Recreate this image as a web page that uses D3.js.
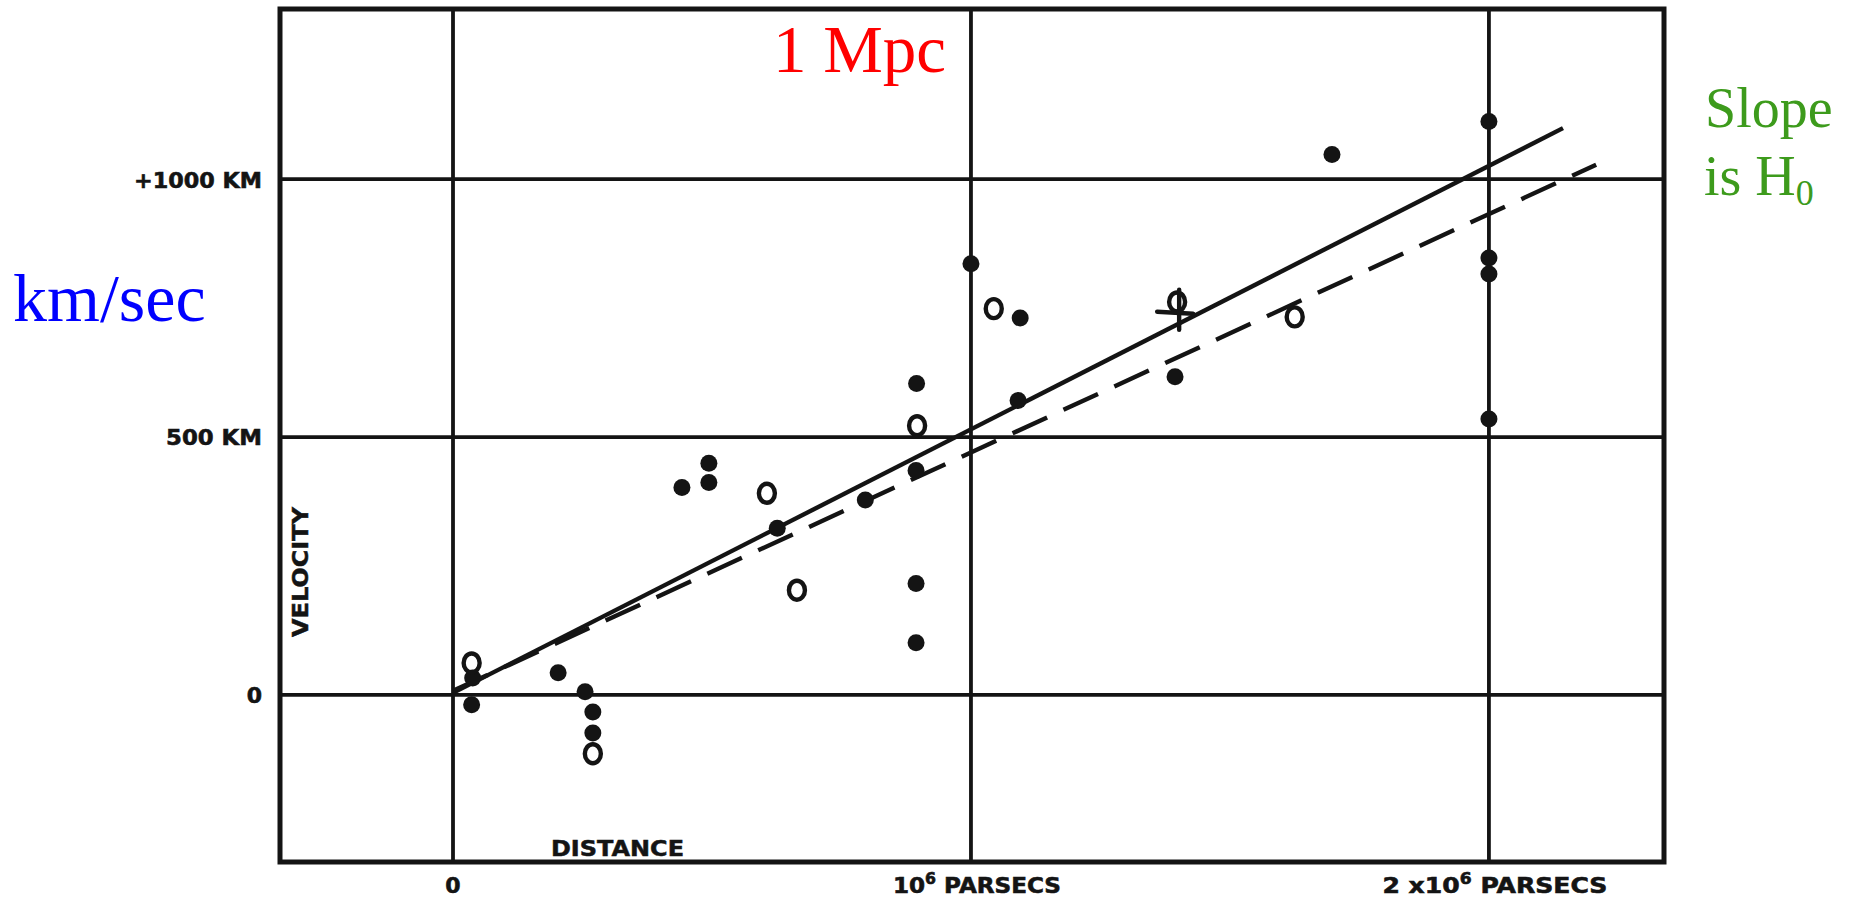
<!DOCTYPE html>
<html>
<head>
<meta charset="utf-8">
<script src="https://cdn.jsdelivr.net/npm/d3@7"></script>
<style>
  html, body { margin: 0; background: #fff; }
  svg { display: block; }
</style>
</head>
<body>
<svg id="chart" width="1850" height="898"></svg>
<script>
// Velocity–distance relation for extra-galactic nebulae.
// Individual nebulae (black discs): distance in Mpc, radial velocity in km/s.
const nebulaDist = [0.038, 0.036, 0.203, 0.255, 0.270, 0.270, 0.442, 0.494, 0.494, 0.626,
                    0.796, 0.894, 0.894, 0.894, 0.895, 1.000, 1.095, 1.091, 1.394, 1.697,
                    2.000, 2.000, 2.000, 2.000];
const nebulaVel  = [33, -19, 43, 6, -33, -74, 402, 449, 412, 323,
                    378, 435, 216, 101, 604, 836, 731, 571, 617, 1048,
                    1112, 847, 816, 535];

// Nebulae combined into groups (open circles).
const groupDist = [0.036, 0.270, 0.606, 0.664, 0.896, 1.044, 1.625, 1.398];
const groupVel  = [62, -114, 391, 203, 522, 749, 733, 762];

// Mean velocity of the 22 nebulae without individual distances (cross).
const crossDist = [1.40];
const crossVel  = [743];

// Fitted lines: full line for individual nebulae, broken line for groups.
const fullLineDist   = [0, 2.143];
const fullLineVel    = [4, 1099];
const brokenLineDist = [0, 2.207];
const brokenLineVel  = [8, 1028];

// Axes
const xTicks = [0, 1, 2];
const yTicks = [0, 500, 1000];
const yTickLabels = ["0", "500 KM", "+1000 KM"];
const xDomain = [-0.334, 2.338];
const yDomain = [-324, 1330];

const svg = d3.select("#chart");
const frame = { left: 280, right: 1664, top: 9, bottom: 862 };

const x = d3.scaleLinear().domain(xDomain).range([frame.left, frame.right]);
const y = d3.scaleLinear().domain(yDomain).range([frame.bottom, frame.top]);

const ink = "#141414";
const letterFont = "'DejaVu Sans', sans-serif";

// Grid lines
const grid = svg.append("g").attr("stroke", ink).attr("stroke-width", 3.8);
grid.selectAll("line.v").data(xTicks).join("line")
  .attr("class", "v")
  .attr("x1", d => x(d)).attr("x2", d => x(d))
  .attr("y1", y(yDomain[0])).attr("y2", y(yDomain[1]));
grid.selectAll("line.h").data(yTicks).join("line")
  .attr("class", "h")
  .attr("x1", x(xDomain[0])).attr("x2", x(xDomain[1]))
  .attr("y1", d => y(d)).attr("y2", d => y(d));

// Frame
svg.append("rect")
  .attr("x", x(xDomain[0])).attr("y", y(yDomain[1]))
  .attr("width", x(xDomain[1]) - x(xDomain[0]))
  .attr("height", y(yDomain[0]) - y(yDomain[1]))
  .attr("fill", "none").attr("stroke", ink).attr("stroke-width", 5);

// Y axis labels
const yAxis = d3.axisLeft(y)
  .tickValues(yTicks)
  .tickSize(0)
  .tickPadding(18)
  .tickFormat((d, i) => yTickLabels[i]);
const gy = svg.append("g").attr("transform", `translate(${x(xDomain[0])},0)`).call(yAxis);
gy.select(".domain").remove();
gy.selectAll("text")
  .attr("font-family", letterFont).attr("font-weight", "bold")
  .attr("font-size", 22).attr("fill", ink)
  .attr("stroke", ink).attr("stroke-width", 0.6)
  .attr("dy", "0.36em");
gy.selectAll(".tick text")
  .filter((d, i) => i > 0)
  .attr("textLength", (d, i) => [96, 128][i])
  .attr("lengthAdjust", "spacingAndGlyphs");

// X axis labels (with superscript exponents)
const xLabels = svg.append("g")
  .attr("font-family", letterFont).attr("font-weight", "bold")
  .attr("font-size", 22).attr("fill", ink)
  .attr("stroke", ink).attr("stroke-width", 0.6)
  .attr("text-anchor", "middle");
const xParts = [
  [["0", null]],
  [["10", null], ["6", "sup"], [" PARSECS", null]],
  [["2 x10", null], ["6", "sup"], [" PARSECS", null]]
];
const xLabelWidths = [null, 168, 225];
xTicks.forEach((t, i) => {
  const txt = xLabels.append("text")
    .attr("x", x(t) + (i === 0 ? 0 : 6))
    .attr("y", 893);
  xParts[i].forEach(([s, kind]) => {
    const sp = txt.append("tspan").text(s);
    if (kind === "sup") sp.attr("font-size", 15).attr("dy", -9);
    else if (s.startsWith(" ") && i > 0) sp.attr("dy", 9);
  });
  if (xLabelWidths[i]) txt.attr("textLength", xLabelWidths[i]).attr("lengthAdjust", "spacingAndGlyphs");
});

// Axis titles inside the frame
svg.append("text")
  .attr("x", 551).attr("y", 856)
  .attr("font-family", letterFont).attr("font-weight", "bold")
  .attr("font-size", 21).attr("fill", ink)
  .attr("stroke", ink).attr("stroke-width", 0.5)
  .attr("textLength", 133).attr("lengthAdjust", "spacingAndGlyphs")
  .text("DISTANCE");
svg.append("text")
  .attr("transform", "translate(308,637) rotate(-90)")
  .attr("font-family", letterFont).attr("font-weight", "bold")
  .attr("font-size", 21).attr("fill", ink)
  .attr("stroke", ink).attr("stroke-width", 0.5)
  .attr("textLength", 130).attr("lengthAdjust", "spacingAndGlyphs")
  .text("VELOCITY");

// Fitted lines
const line = d3.line().x(d => x(d[0])).y(d => y(d[1]));
svg.append("path")
  .datum(d3.zip(fullLineDist, fullLineVel))
  .attr("d", line)
  .attr("fill", "none").attr("stroke", ink).attr("stroke-width", 4.4);
svg.append("path")
  .datum(d3.zip(brokenLineDist, brokenLineVel))
  .attr("d", line)
  .attr("fill", "none").attr("stroke", ink).attr("stroke-width", 4.4)
  .attr("stroke-dasharray", "38 18");

// Black discs: individual nebulae
svg.append("g").selectAll("circle")
  .data(d3.zip(nebulaDist, nebulaVel))
  .join("circle")
  .attr("cx", d => x(d[0])).attr("cy", d => y(d[1]))
  .attr("r", 8.5).attr("fill", ink);

// Open circles: groups
svg.append("g").selectAll("ellipse")
  .data(d3.zip(groupDist, groupVel))
  .join("ellipse")
  .attr("cx", d => x(d[0])).attr("cy", d => y(d[1]))
  .attr("rx", 8).attr("ry", 9.5)
  .attr("fill", "none").attr("stroke", ink).attr("stroke-width", 4.4);

// Cross
const cross = svg.append("g").attr("stroke", ink).attr("stroke-width", 4.4).attr("stroke-linecap", "round");
d3.zip(crossDist, crossVel).forEach(([d, v]) => {
  cross.append("line")
    .attr("x1", x(d) - 21).attr("x2", x(d) + 15)
    .attr("y1", y(v)).attr("y2", y(v) + 2);
  cross.append("line")
    .attr("x1", x(d) + 1).attr("x2", x(d) + 1)
    .attr("y1", y(v) - 22).attr("y2", y(v) + 18);
});

// Annotations
const serif = "'Liberation Serif', 'Times New Roman', serif";
svg.append("text")
  .attr("x", 773).attr("y", 72)
  .attr("font-family", serif).attr("font-size", 67).attr("fill", "#ff0000")
  .text("1 Mpc");
svg.append("text")
  .attr("x", 13).attr("y", 321)
  .attr("font-family", serif).attr("font-size", 68).attr("fill", "#0000ff")
  .text("km/sec");
const slope = svg.append("text")
  .attr("font-family", serif).attr("font-size", 56).attr("fill", "#3d9b1c");
slope.append("tspan").attr("x", 1705).attr("y", 127).text("Slope");
slope.append("tspan").attr("x", 1704).attr("y", 195).text("is H");
slope.append("tspan").attr("font-size", 36).attr("dy", 10).text("0");
</script>
</body>
</html>
